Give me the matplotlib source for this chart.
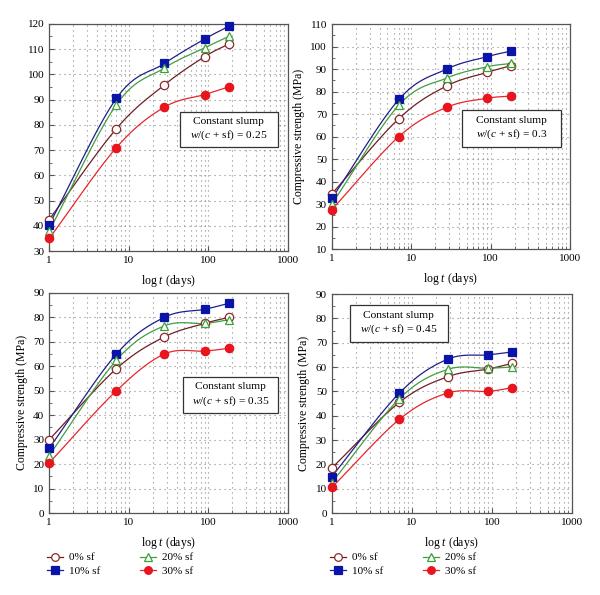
import numpy as np
import matplotlib.pyplot as plt
from matplotlib.patches import Rectangle
from matplotlib.ticker import LogLocator, MultipleLocator, NullFormatter

plt.rcParams['font.family'] = 'Liberation Serif'
plt.rcParams['mathtext.fontset'] = 'custom'
plt.rcParams['mathtext.rm'] = 'Liberation Serif'
plt.rcParams['mathtext.it'] = 'Liberation Serif:italic'

# Edad de ensayo (dias)
dias = [1, 7, 28, 90, 180]

# Relacion w/(c+sf) de cada panel
relaciones = ["0.25", "0.3", "0.35", "0.45"]

# Resistencia a compresion (MPa) por panel: 0%, 10%, 20%, 30% sf
sf0 = [[42.5, 78.5, 95.8, 107, 112],
       [34.5, 68, 82.5, 88.5, 91.5],
       [30, 59, 72, 77.5, 80],
       [18.5, 45.5, 56, 59.2, 61.5]]
sf10 = [[40.5, 90.5, 104.3, 114, 119],
        [32.5, 76.5, 90, 95.5, 98],
        [26.5, 65, 80, 83.3, 85.7],
        [15, 49.3, 63.2, 65, 66.2]]
sf20 = [[38, 88, 102.5, 110.5, 115],
        [30, 74, 86, 91, 92.5],
        [23.5, 62.5, 76.5, 77.5, 79],
        [12.5, 47, 59, 59.5, 60]]
sf30 = [[35, 71, 87, 92, 95],
        [27.5, 60, 73, 77, 78],
        [20.5, 50, 65, 66.2, 67.3],
        [10.5, 38.5, 49.3, 50, 51.5]]

nombres = ["0% sf", "10% sf", "20% sf", "30% sf"]
series = [sf0, sf10, sf20, sf30]

# Estilo de cada serie: color de linea, marcador, relleno, borde
estilos = [("#6e1f24", "o", "white", "#8e2a2a"),
           ("#1f1f8a", "s", "#0a14a8", "#0a14a8"),
           ("#3f9f3f", "^", "white", "#3aa23a"),
           ("#e8262a", "o", "#e8141e", "#e8141e")]

limites_y = [(30, 120), (10, 110), (0, 90), (0, 90)]
posiciones = [[0.082, 0.578, 0.398, 0.382],
              [0.553, 0.5815, 0.397, 0.378],
              [0.082, 0.1378, 0.398, 0.370],
              [0.553, 0.1378, 0.400, 0.368]]
# Caja de texto (x0, y0, x1, y1) en fraccion de ejes
cajas = [(0.547, 0.458, 0.958, 0.612),
         (0.546, 0.453, 0.962, 0.618),
         (0.561, 0.455, 0.958, 0.618),
         (0.075, 0.781, 0.483, 0.950)]


def curva_suave(x, y, n=30):
    # Catmull-Rom en espacio log10(x) para dibujar la linea
    lx = np.log10(np.array(x, dtype=float))
    y = np.array(y, dtype=float)
    px = np.concatenate([[2 * lx[0] - lx[1]], lx, [2 * lx[-1] - lx[-2]]])
    py = np.concatenate([[2 * y[0] - y[1]], y, [2 * y[-1] - y[-2]]])
    xs, ys = [], []
    for i in range(1, len(px) - 2):
        t = np.linspace(0, 1, n)
        for arr, out in ((px, xs), (py, ys)):
            p0, p1, p2, p3 = arr[i - 1], arr[i], arr[i + 1], arr[i + 2]
            out.extend(0.5 * ((2 * p1) + (-p0 + p2) * t
                              + (2 * p0 - 5 * p1 + 4 * p2 - p3) * t ** 2
                              + (-p0 + 3 * p1 - 3 * p2 + p3) * t ** 3))
    return 10 ** np.array(xs), np.array(ys)


fig = plt.figure(figsize=(6, 5.95), dpi=100)

for k in range(4):
    ax = fig.add_axes(posiciones[k])
    manejadores = []
    for s, (lc, mk, mf, me), nombre in zip(series, estilos, nombres):
        xs, ys = curva_suave(dias, s[k])
        ax.plot(xs, ys, color=lc, lw=0.9, zorder=3)
        ax.plot(dias, s[k], ls="none", marker=mk, ms=6, mfc=mf, mec=me, mew=0.9,
                zorder=4, clip_on=False)
        h, = ax.plot([], [], color=lc, lw=0.9, marker=mk, ms=5.5, mfc=mf, mec=me, mew=0.9, label=nombre)
        manejadores.append(h)

    ax.set_xscale("log")
    ax.set_xlim(1, 1000)
    ax.set_ylim(*limites_y[k])
    ax.xaxis.set_minor_locator(LogLocator(base=10, subs=np.arange(2, 10), numticks=10))
    ax.xaxis.set_minor_formatter(NullFormatter())
    ax.set_xticks([1, 10, 100, 1000])
    ax.set_xticklabels(["1", "10", "100", "1000"])
    ax.yaxis.set_major_locator(MultipleLocator(10))
    ax.yaxis.set_minor_locator(MultipleLocator(5))
    ax.grid(which="major", color="#8a8a8a", ls=(0, (1, 3.5)), lw=0.8)
    ax.grid(which="minor", axis="x", color="#8a8a8a", ls=(0, (1, 3.5)), lw=0.8)
    ax.tick_params(which="both", direction="in", labelsize=8, color="#555555", top=False, right=False)
    ax.tick_params(which="major", length=3.5)
    ax.tick_params(which="minor", length=2)
    for sp in ax.spines.values():
        sp.set_color("#555555")
        sp.set_linewidth(0.9)

    ax.set_xlabel("log $t$ (days)", fontsize=8.5, labelpad=6)
    if k > 0:
        ax.set_ylabel("Compressive strength (MPa)", fontsize=8.5)

    x0, y0, x1, y1 = cajas[k]
    ax.add_patch(Rectangle((x0, y0), x1 - x0, y1 - y0, transform=ax.transAxes,
                           fc="white", ec="#333333", lw=0.9, zorder=5))
    ax.text((x0 + x1) / 2, (y0 + y1) / 2,
            "Constant slump\n$w/(c$ + sf) = " + relaciones[k],
            transform=ax.transAxes, ha="center", va="center", fontsize=8.2,
            linespacing=1.3, zorder=6)

    if k >= 2:
        cx = 0.2 if k == 2 else 0.672
        fig.legend(handles=manejadores, loc="center", bbox_to_anchor=(cx, 0.052), ncol=2,
                   frameon=False, fontsize=8, columnspacing=3.6, handlelength=1.45,
                   handletextpad=0.55, labelspacing=0.3)

fig.savefig("out.png", dpi=100)
